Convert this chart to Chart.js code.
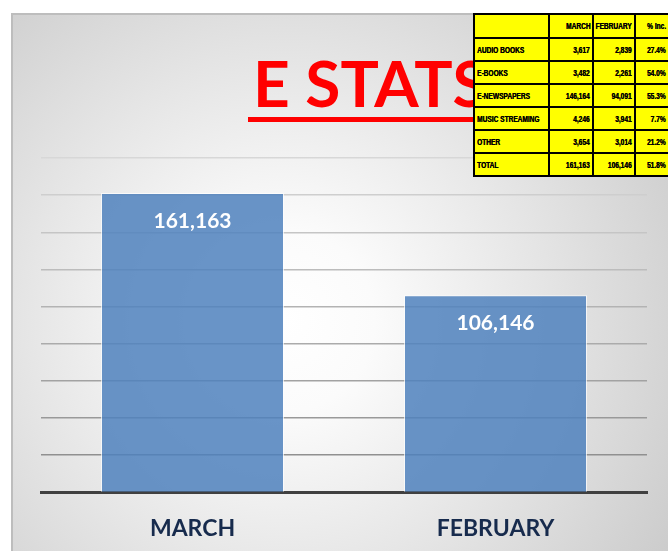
<!DOCTYPE html>
<html lang="en">
<head>
    <meta charset="UTF-8">
    <title>E Stats</title>
    <script src="https://cdn.jsdelivr.net/npm/chart.js"></script>
    <style>
        body { margin: 0; width: 668px; height: 551px; overflow: hidden; position: relative; background: #fff; }
        #panel {
            position: absolute; left: 11px; top: 13px; width: 680px; height: 560px;
            border: 2px solid #bdbdbd; box-sizing: border-box;
            background: radial-gradient(circle farthest-corner at 40% 55%, #ffffff 0%, #fbfbfb 18%, #e6e6e6 50%, #c4c4c4 100%);
        }
        #myChart { position: absolute; left: 0; top: 0; }
        #title {
            position: absolute; left: 248px; top: 51px; padding: 0 0 2px 5px;
            font: bold 64px/64px Lato, sans-serif; color: #ff0000;
            border-bottom: 5px solid #ff0000; white-space: nowrap;
        }
        #stats {
            position: absolute; left: 473px; top: 13px; border-collapse: collapse; table-layout: fixed; width: 195px;
            background: #ffff00; font-family: "Liberation Sans", Arial, sans-serif;
            font-weight: bold; font-size: 9px; color: #000;
        }
        #stats td { border: 2px solid #000; padding: 0; height: 21px; position: relative; }
        #stats td span {
            position: absolute; right: 2px; top: 50%; white-space: nowrap;
            transform: translateY(-50%) scaleX(0.73); transform-origin: right center; text-shadow: 0.4px 0 0 #000;
        }
        #stats td:first-child span { right: auto; left: 2px; transform-origin: left center; }
        #stats tr:first-child td { height: 22px; }
    </style>
</head>
<body>
    <div id="panel"></div>
    <canvas id="myChart" width="668" height="570"></canvas>
    <div id="title">E STATS</div>
    <table id="stats"></table>
    <script>
        // bar chart data
        const months = ['MARCH', 'FEBRUARY'];
        const totals = [161163, 106146];
        const yMax = 180000;
        const yStep = 20000;

        // table data
        const tableHead = ['', 'MARCH', 'FEBRUARY', '% Inc.'];
        const rowNames = ['AUDIO BOOKS', 'E-BOOKS', 'E-NEWSPAPERS', 'MUSIC STREAMING', 'OTHER', 'TOTAL'];
        const marchVals = ['3,617', '3,482', '146,164', '4,246', '3,654', '161,163'];
        const febVals = ['2,839', '2,261', '94,091', '3,941', '3,014', '106,146'];
        const pctInc = ['27.4%', '54.0%', '55.3%', '7.7%', '21.2%', '51.8%'];

        function buildTable() {
            const table = document.getElementById('stats');
            const widths = [75, 44, 42, 34];
            let html = '<colgroup>' + widths.map(w => '<col style="width:' + w + 'px">').join('') + '</colgroup>';
            const cell = txt => '<td><span>' + txt + '</span></td>';
            html += '<tr>' + tableHead.map(cell).join('') + '</tr>';
            rowNames.forEach((name, i) => {
                html += '<tr>' + cell(name) + cell(marchVals[i]) + cell(febVals[i]) + cell(pctInc[i]) + '</tr>';
            });
            table.innerHTML = html;
        }

        // writes the value inside the top of each bar
        const valueLabels = {
            id: 'valueLabels',
            afterDatasetsDraw(chart) {
                const ctx = chart.ctx;
                const meta = chart.getDatasetMeta(0);
                ctx.save();
                ctx.fillStyle = '#ffffff';
                ctx.font = 'bold 21px Lato, sans-serif';
                ctx.textAlign = 'center';
                ctx.textBaseline = 'middle';
                meta.data.forEach((bar, i) => {
                    ctx.fillText(totals[i].toLocaleString('en-US'), bar.x, bar.y + 28);
                });
                ctx.restore();
            }
        };

        function gridColor(c) {
            // lighter toward the top like the original
            const t = c.index / (yMax / yStep);
            const v = Math.round(135 + t * 80);
            return 'rgb(' + v + ',' + v + ',' + v + ')';
        }

        function renderChart() {
            const ctx = document.getElementById('myChart');
            new Chart(ctx, {
                type: 'bar',
                data: {
                    labels: months,
                    datasets: [{
                        data: totals,
                        backgroundColor: 'rgba(79,129,189,0.85)',
                        borderColor: 'rgba(255,255,255,0.7)',
                        borderWidth: 1,
                        barPercentage: 0.604,
                        categoryPercentage: 1
                    }]
                },
                options: {
                    responsive: false,
                    animation: false,
                    layout: { padding: { left: 41, right: 21, top: 158, bottom: 14 } },
                    plugins: { legend: { display: false }, tooltip: { enabled: false } },
                    scales: {
                        x: {
                            grid: { display: false },
                            border: { color: '#404040', width: 3 },
                            ticks: { color: '#172b4d', padding: 14, font: { family: 'Lato', size: 23, weight: 'bold' } }
                        },
                        y: {
                            min: 0,
                            max: yMax,
                            ticks: { display: false, stepSize: yStep },
                            border: { display: false },
                            grid: { drawTicks: false, color: gridColor, lineWidth: 1.5 }
                        }
                    }
                },
                plugins: [valueLabels]
            });
        }

        buildTable();
        document.fonts.load('bold 24px Lato').then(renderChart, renderChart);
    </script>
</body>
</html>
